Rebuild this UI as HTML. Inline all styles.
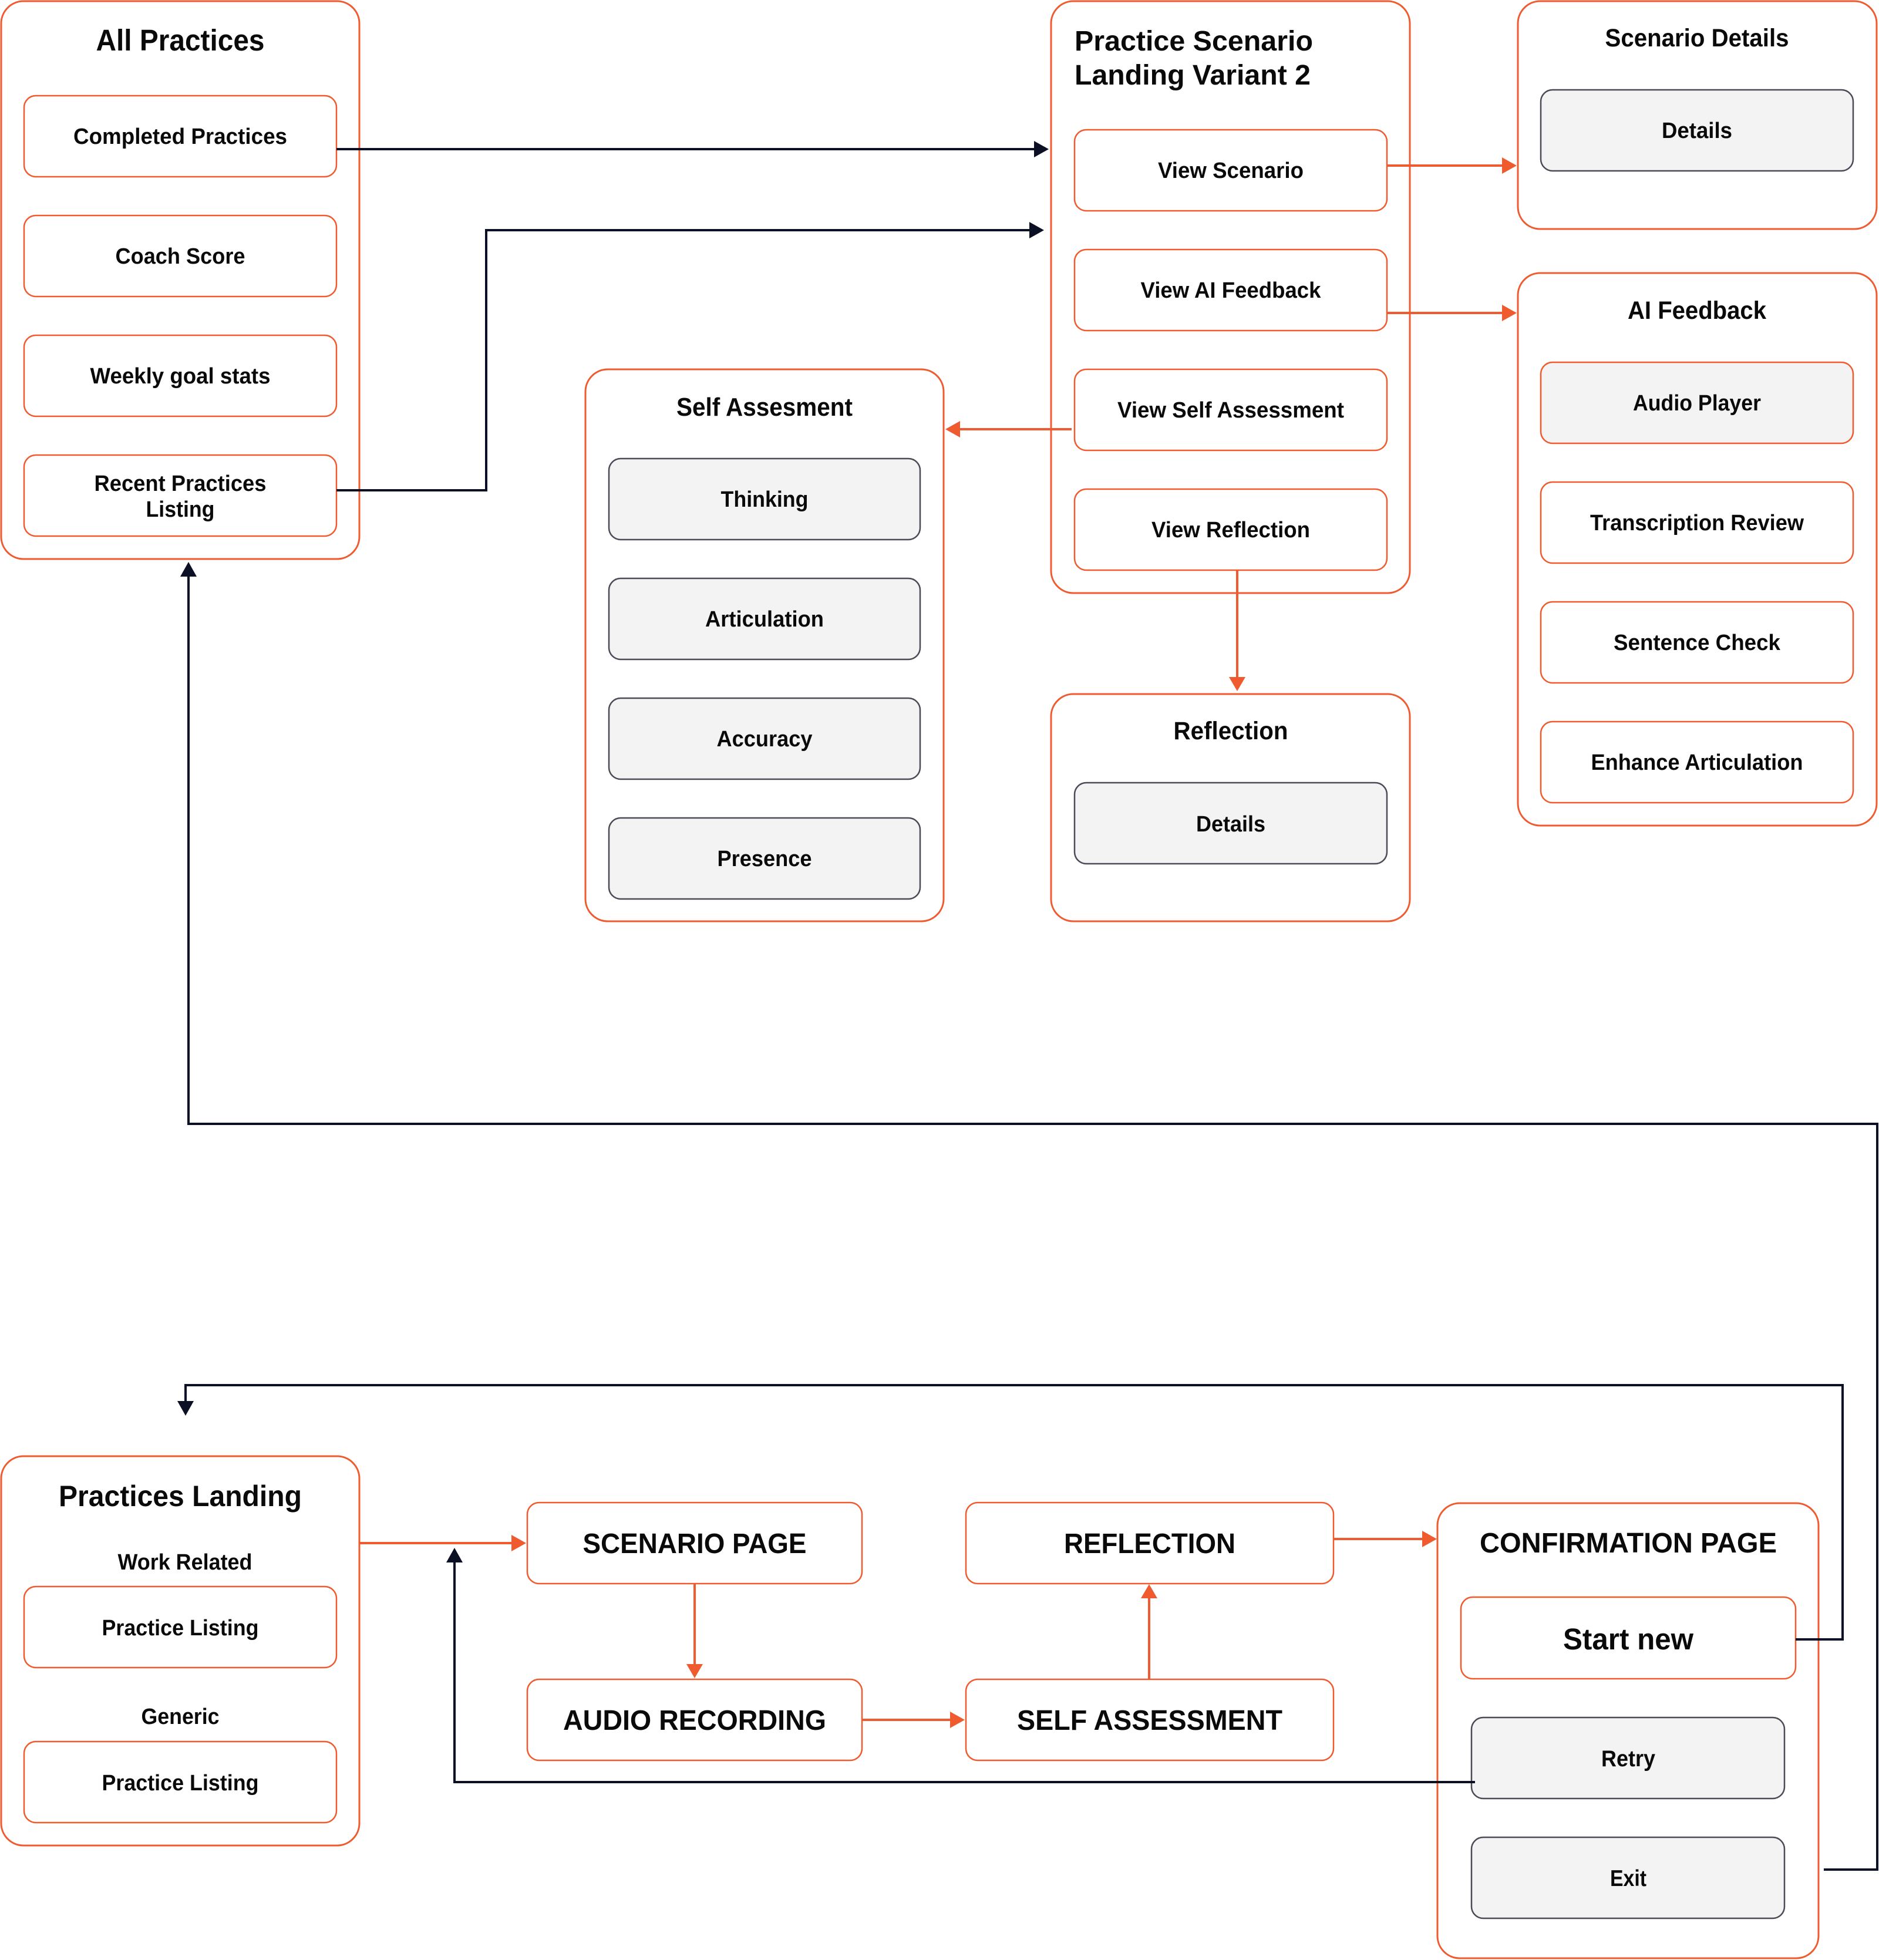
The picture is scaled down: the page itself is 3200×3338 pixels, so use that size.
<!DOCTYPE html>
<html>
<head>
<meta charset="utf-8">
<style>
html,body{margin:0;padding:0;background:#fff;}
svg{display:block;}
text{font-family:"Liberation Sans", Arial, sans-serif;font-weight:700;fill:#0a0a0a;}
</style>
</head>
<body>
<svg width="3200" height="3338" viewBox="0 0 3200 3338" xmlns="http://www.w3.org/2000/svg">
<rect x="0" y="0" width="3200" height="3338" fill="#ffffff"/>

<!-- ===== Outer containers ===== -->
<g fill="#ffffff" stroke="#EF5B2F" stroke-width="3">
  <rect x="2" y="2" width="610" height="950" rx="38"/>
  <rect x="1790" y="2" width="611" height="1008" rx="38"/>
  <rect x="2585" y="2" width="611" height="388" rx="38"/>
  <rect x="2585" y="465" width="611" height="941" rx="38"/>
  <rect x="997" y="629" width="610" height="940" rx="38"/>
  <rect x="1790" y="1182" width="611" height="387" rx="38"/>
  <rect x="2" y="2480" width="610" height="663" rx="38"/>
  <rect x="2448" y="2560" width="649" height="775" rx="38"/>
</g>

<!-- ===== Inner white boxes (orange border) ===== -->
<g fill="#ffffff" stroke="#EF5B2F" stroke-width="2.5">
  <rect x="41" y="163" width="532" height="138" rx="20"/>
  <rect x="41" y="367" width="532" height="138" rx="20"/>
  <rect x="41" y="571" width="532" height="138" rx="20"/>
  <rect x="41" y="775" width="532" height="138" rx="20"/>

  <rect x="1830" y="221" width="532" height="138" rx="20"/>
  <rect x="1830" y="425" width="532" height="138" rx="20"/>
  <rect x="1830" y="629" width="532" height="138" rx="20"/>
  <rect x="1830" y="833" width="532" height="138" rx="20"/>

  <rect x="2624" y="821" width="532" height="138" rx="20"/>
  <rect x="2624" y="1025" width="532" height="138" rx="20"/>
  <rect x="2624" y="1229" width="532" height="138" rx="20"/>

  <rect x="41" y="2702" width="532" height="138" rx="20"/>
  <rect x="41" y="2966" width="532" height="138" rx="20"/>

  <rect x="898" y="2559" width="570" height="138" rx="20"/>
  <rect x="1645" y="2559" width="626" height="138" rx="20"/>
  <rect x="898" y="2860" width="570" height="138" rx="20"/>
  <rect x="1645" y="2860" width="626" height="138" rx="20"/>

  <rect x="2488" y="2720" width="570" height="139" rx="20"/>
</g>

<!-- Audio Player: gray fill, orange border -->
<rect x="2624" y="617" width="532" height="138" rx="20" fill="#F3F3F3" stroke="#EF5B2F" stroke-width="2.5"/>

<!-- ===== Gray boxes (dark border) ===== -->
<g fill="#F3F3F3" stroke="#4A4B57" stroke-width="2.5">
  <rect x="2624" y="153" width="532" height="138" rx="20"/>
  <rect x="1037" y="781" width="530" height="138" rx="20"/>
  <rect x="1037" y="985" width="530" height="138" rx="20"/>
  <rect x="1037" y="1189" width="530" height="138" rx="20"/>
  <rect x="1037" y="1393" width="530" height="138" rx="20"/>
  <rect x="1830" y="1333" width="532" height="138" rx="20"/>
  <rect x="2506" y="2925" width="533" height="138" rx="20"/>
  <rect x="2506" y="3129" width="533" height="138" rx="20"/>
</g>

<!-- ===== Dark connectors ===== -->
<g fill="none" stroke="#0B1024" stroke-width="4">
  <path d="M573 254 H1762"/>
  <path d="M573 835 H828 V392 H1754"/>
  <path d="M3106 3184 H3197 V1914 H321 V980"/>
  <path d="M3058 2792 H3138 V2359 H316 V2388"/>
  <path d="M2512 3035 H774 V2659"/>
</g>
<g fill="#0B1024">
  <polygon points="1786,254 1761,240 1761,268"/>
  <polygon points="1778,392 1753,378 1753,406"/>
  <polygon points="321,957 307,982 335,982"/>
  <polygon points="316,2411 302,2386 330,2386"/>
  <polygon points="774,2636 760,2661 788,2661"/>
</g>

<!-- ===== Orange connectors ===== -->
<g fill="none" stroke="#EF5B2F" stroke-width="4">
  <path d="M2362 282 H2560"/>
  <path d="M2362 533 H2560"/>
  <path d="M1825 731 H1633"/>
  <path d="M2107 971 V1155"/>
  <path d="M612 2628 H873"/>
  <path d="M1183 2697 V2836"/>
  <path d="M1468 2929 H1620"/>
  <path d="M1957 2860 V2720"/>
  <path d="M2271 2621 H2424"/>
</g>
<g fill="#EF5B2F">
  <polygon points="2583,282 2558,268 2558,296"/>
  <polygon points="2583,533 2558,519 2558,547"/>
  <polygon points="1610,731 1635,717 1635,745"/>
  <polygon points="2107,1177 2093,1153 2121,1153"/>
  <polygon points="896,2628 871,2614 871,2642"/>
  <polygon points="1183,2858 1169,2834 1197,2834"/>
  <polygon points="1643,2929 1618,2915 1618,2943"/>
  <polygon points="1957,2698 1943,2722 1971,2722"/>
  <polygon points="2447,2621 2422,2607 2422,2635"/>
</g>

<!-- ===== Text ===== -->
<g text-anchor="middle">
  <text x="307" y="86" font-size="51" textLength="287" lengthAdjust="spacingAndGlyphs">All Practices</text>
  <text x="307" y="245" font-size="38" textLength="364" lengthAdjust="spacingAndGlyphs">Completed Practices</text>
  <text x="307" y="449" font-size="38" textLength="221" lengthAdjust="spacingAndGlyphs">Coach Score</text>
  <text x="307" y="653" font-size="38" textLength="307" lengthAdjust="spacingAndGlyphs">Weekly goal stats</text>
  <text x="307" y="836" font-size="38" textLength="293" lengthAdjust="spacingAndGlyphs">Recent Practices</text>
  <text x="307" y="880" font-size="38" textLength="117" lengthAdjust="spacingAndGlyphs">Listing</text>

  <text x="2096" y="303" font-size="38" textLength="248" lengthAdjust="spacingAndGlyphs">View Scenario</text>
  <text x="2096" y="507" font-size="38" textLength="307" lengthAdjust="spacingAndGlyphs">View AI Feedback</text>
  <text x="2096" y="711" font-size="38" textLength="386" lengthAdjust="spacingAndGlyphs">View Self Assessment</text>
  <text x="2096" y="915" font-size="38" textLength="270" lengthAdjust="spacingAndGlyphs">View Reflection</text>

  <text x="2890" y="79" font-size="43" textLength="313" lengthAdjust="spacingAndGlyphs">Scenario Details</text>
  <text x="2890" y="235" font-size="38" textLength="120" lengthAdjust="spacingAndGlyphs">Details</text>

  <text x="2890" y="543" font-size="43" textLength="236" lengthAdjust="spacingAndGlyphs">AI Feedback</text>
  <text x="2890" y="699" font-size="38" textLength="218" lengthAdjust="spacingAndGlyphs">Audio Player</text>
  <text x="2890" y="903" font-size="38" textLength="364" lengthAdjust="spacingAndGlyphs">Transcription Review</text>
  <text x="2890" y="1107" font-size="38" textLength="284" lengthAdjust="spacingAndGlyphs">Sentence Check</text>
  <text x="2890" y="1311" font-size="38" textLength="361" lengthAdjust="spacingAndGlyphs">Enhance Articulation</text>

  <text x="1302" y="708" font-size="44" textLength="300" lengthAdjust="spacingAndGlyphs">Self Assesment</text>
  <text x="1302" y="863" font-size="38" textLength="149" lengthAdjust="spacingAndGlyphs">Thinking</text>
  <text x="1302" y="1067" font-size="38" textLength="202" lengthAdjust="spacingAndGlyphs">Articulation</text>
  <text x="1302" y="1271" font-size="38" textLength="163" lengthAdjust="spacingAndGlyphs">Accuracy</text>
  <text x="1302" y="1475" font-size="38" textLength="161" lengthAdjust="spacingAndGlyphs">Presence</text>

  <text x="2096" y="1259" font-size="43" textLength="195" lengthAdjust="spacingAndGlyphs">Reflection</text>
  <text x="2096" y="1416" font-size="38" textLength="118" lengthAdjust="spacingAndGlyphs">Details</text>

  <text x="307" y="2565" font-size="50" textLength="414" lengthAdjust="spacingAndGlyphs">Practices Landing</text>
  <text x="315" y="2673" font-size="38" textLength="229" lengthAdjust="spacingAndGlyphs">Work Related</text>
  <text x="307" y="2785" font-size="38" textLength="267" lengthAdjust="spacingAndGlyphs">Practice Listing</text>
  <text x="307" y="2936" font-size="38" textLength="133" lengthAdjust="spacingAndGlyphs">Generic</text>
  <text x="307" y="3049" font-size="38" textLength="267" lengthAdjust="spacingAndGlyphs">Practice Listing</text>

  <text x="1183" y="2645" font-size="48" textLength="381" lengthAdjust="spacingAndGlyphs">SCENARIO PAGE</text>
  <text x="1958" y="2645" font-size="48" textLength="292" lengthAdjust="spacingAndGlyphs">REFLECTION</text>
  <text x="1183" y="2946" font-size="48" textLength="448" lengthAdjust="spacingAndGlyphs">AUDIO RECORDING</text>
  <text x="1958" y="2946" font-size="48" textLength="452" lengthAdjust="spacingAndGlyphs">SELF ASSESSMENT</text>

  <text x="2773" y="2644" font-size="48" textLength="506" lengthAdjust="spacingAndGlyphs">CONFIRMATION PAGE</text>
  <text x="2773" y="2809" font-size="51" textLength="222" lengthAdjust="spacingAndGlyphs">Start new</text>
  <text x="2773" y="3008" font-size="39" textLength="92" lengthAdjust="spacingAndGlyphs">Retry</text>
  <text x="2773" y="3212" font-size="39" textLength="62" lengthAdjust="spacingAndGlyphs">Exit</text>
</g>
<g text-anchor="start">
  <text x="1830" y="86" font-size="48" textLength="406" lengthAdjust="spacingAndGlyphs">Practice Scenario</text>
  <text x="1830" y="144" font-size="48" textLength="402" lengthAdjust="spacingAndGlyphs">Landing Variant 2</text>
</g>
</svg>
</body>
</html>
